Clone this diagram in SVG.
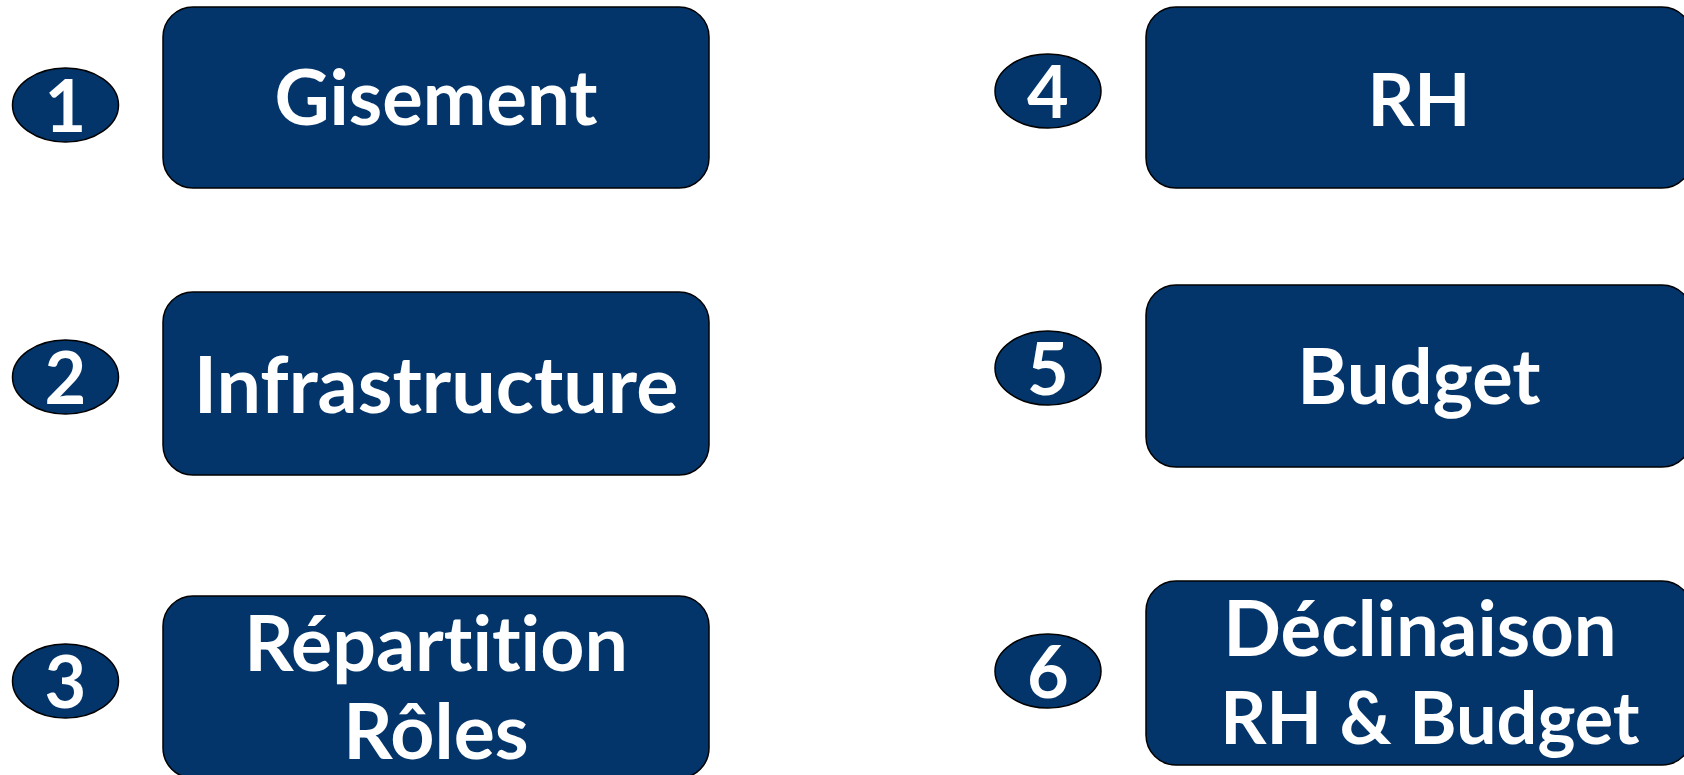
<svg xmlns="http://www.w3.org/2000/svg" width="1684" height="775" viewBox="0 0 1684 775">
<style>
.box{fill:#03356a;stroke:#000;stroke-width:1.5}
.num{fill:#03356a;stroke:#000;stroke-width:1.5}
.t{fill:#fff;font-family:Lato,"Liberation Sans",sans-serif;font-weight:bold;text-anchor:middle;font-variant-ligatures:none}
.d{fill:#fff;font-family:Lato,"Liberation Sans",sans-serif;font-weight:bold;text-anchor:middle;font-size:72px}
</style>
<rect width="1684" height="775" fill="#fff"/>
<g id="n1">
<ellipse class="num" cx="65.5" cy="105" rx="53" ry="37"/>
<text class="d" x="65.5" y="132">1</text>
<rect class="box" x="163" y="7" width="546" height="181" rx="30"/>
<text class="t" x="436" y="125" font-size="76">Gisement</text>
</g>
<g id="n2">
<ellipse class="num" cx="65.5" cy="377" rx="53" ry="37"/>
<text class="d" x="65.5" y="404">2</text>
<rect class="box" x="163" y="292" width="546" height="183" rx="30"/>
<text class="t" x="436" y="413" font-size="79">Infrastructure</text>
</g>
<g id="n3">
<ellipse class="num" cx="65.5" cy="681" rx="53" ry="37"/>
<text class="d" x="65.5" y="708">3</text>
<rect class="box" x="163" y="596" width="546" height="182" rx="30"/>
<text class="t" x="436" y="671" font-size="77">Répartition</text>
<text class="t" x="436" y="759" font-size="77">Rôles</text>
</g>
<g id="n4">
<ellipse class="num" cx="1048" cy="91" rx="53" ry="37"/>
<text class="d" x="1048" y="118">4</text>
<rect class="box" x="1146" y="7" width="546" height="181" rx="30"/>
<text class="t" x="1419" y="126" font-size="73">RH</text>
</g>
<g id="n5">
<ellipse class="num" cx="1048" cy="368" rx="53" ry="37"/>
<text class="d" x="1048" y="395">5</text>
<rect class="box" x="1146" y="285" width="546" height="182" rx="30"/>
<text class="t" x="1419" y="404" font-size="76">Budget</text>
</g>
<g id="n6">
<ellipse class="num" cx="1048" cy="671" rx="53" ry="37"/>
<text class="d" x="1048" y="698">6</text>
<rect class="box" x="1146" y="581" width="546" height="184" rx="30"/>
<text class="t" x="1420" y="656" font-size="76">Déclinaison</text>
<text class="t" x="1430" y="744" font-size="72">RH &amp; Budget</text>
</g>
<g id="connectors"/>
</svg>
